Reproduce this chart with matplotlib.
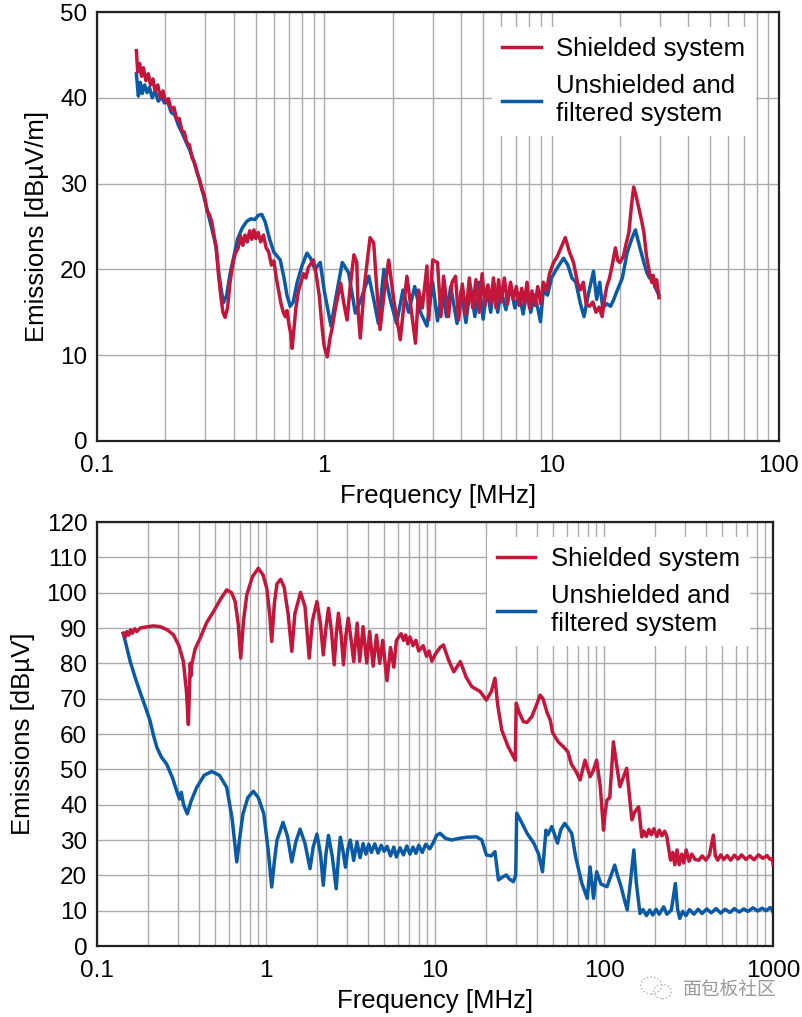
import numpy as np
import matplotlib.pyplot as plt
from matplotlib.patches import Ellipse
from matplotlib.ticker import FixedLocator, FixedFormatter, LogLocator, NullFormatter

plt.rcParams['font.family'] = ['Liberation Sans', 'DejaVu Sans']

RED = '#c4163a'
BLUE = '#0a5aa6'

# ---- top panel: radiated emissions [dBuV/m] ----
top_shielded_f = [0.149, 0.151, 0.154, 0.157, 0.160, 0.164, 0.168, 0.172, 0.176, 0.180,
                  0.185, 0.190, 0.195, 0.200, 0.206, 0.212, 0.218, 0.224, 0.230, 0.236,
                  0.242, 0.248, 0.255, 0.262, 0.268, 0.275, 0.282, 0.290, 0.297, 0.305,
                  0.312, 0.320, 0.328, 0.335, 0.342, 0.350, 0.358, 0.366, 0.375, 0.385,
                  0.395, 0.405, 0.418, 0.428, 0.438, 0.448, 0.458, 0.470, 0.480, 0.490,
                  0.500, 0.512, 0.525, 0.540, 0.555, 0.570, 0.585, 0.600, 0.615, 0.630,
                  0.645, 0.660, 0.673, 0.685, 0.700, 0.712, 0.722, 0.735, 0.750, 0.770,
                  0.790, 0.810, 0.830, 0.850, 0.870, 0.895, 0.920, 0.950, 0.980, 1.00,
                  1.03, 1.06, 1.08, 1.12, 1.18, 1.22, 1.26, 1.30, 1.35, 1.39,
                  1.41, 1.44, 1.50, 1.59, 1.65, 1.70, 1.76, 1.84, 1.92, 2.02,
                  2.16, 2.31, 2.42, 2.52, 2.60, 2.70, 2.83, 2.88, 3.00, 3.15,
                  3.26, 3.35, 3.52, 3.65, 3.78, 3.90, 4.05, 4.20, 4.35, 4.50,
                  4.65, 4.80, 4.95, 5.10, 5.25, 5.40, 5.55, 5.70, 5.85, 6.00,
                  6.20, 6.40, 6.60, 6.80, 7.00, 7.20, 7.40, 7.60, 7.80, 8.00,
                  8.20, 8.45, 8.70, 8.95, 9.20, 9.50, 9.80, 10.2, 10.6, 11.0,
                  11.5, 12.0, 12.5, 13.0, 13.4, 13.8, 14.2, 14.7, 15.2, 15.7,
                  16.2, 16.7, 17.1, 17.5, 18.0, 18.5, 19.1, 19.6, 20.0, 20.7,
                  21.3, 21.9, 22.5, 23.0, 23.6, 24.3, 25.0, 25.5, 26.2, 27.0,
                  27.6, 28.0, 28.5, 29.0, 29.7]
top_shielded_v = [45.5, 43.0, 44.0, 42.5, 43.5, 42.0, 42.8, 41.5, 42.2, 40.8,
                  41.5, 40.0, 40.8, 39.6, 39.9, 38.6, 38.9, 37.5, 37.6, 36.2,
                  36.0, 34.8, 34.5, 33.0, 32.5, 31.3, 30.5, 29.3, 28.6, 26.8,
                  26.4, 25.5, 23.8, 22.5, 19.5, 17.0, 15.0, 14.4, 15.5, 18.5,
                  20.5, 21.8, 22.5, 23.9, 22.8, 24.0, 23.2, 24.5, 23.5, 24.6,
                  23.6, 24.3, 23.2, 24.0, 22.5, 22.0, 20.5, 21.0, 19.0, 17.5,
                  16.0, 15.0, 14.5, 15.2, 13.5, 12.5, 10.8, 13.0, 15.5, 17.5,
                  18.5, 19.5, 19.0, 20.2, 20.6, 21.1, 19.5, 17.0, 13.0, 11.0,
                  9.8, 12.0, 13.0, 15.5, 18.4, 16.0, 14.1, 18.0, 21.7, 20.8,
                  15.0, 12.0, 18.0, 23.7, 23.1, 18.0, 13.0, 17.5, 21.1, 16.5,
                  11.8, 19.2, 15.0, 11.4, 17.6, 15.5, 20.4, 14.1, 21.1, 20.8,
                  14.5, 19.2, 14.5, 18.5, 19.2, 14.1, 18.3, 14.8, 19.0, 15.5,
                  18.8, 15.0, 19.5, 15.8, 18.2, 16.0, 19.0, 15.5, 18.8, 16.2,
                  19.0, 16.0, 18.5, 16.5, 18.0, 15.8, 17.8, 16.0, 18.5, 15.5,
                  17.5, 15.8, 18.0, 16.0, 18.5, 17.5, 19.5, 20.8, 21.5, 22.5,
                  23.7, 22.0, 20.8, 18.5, 17.6, 18.5, 16.0, 15.7, 16.2, 15.0,
                  15.6, 14.5, 16.5, 18.0, 19.0, 20.5, 22.5, 21.0, 20.8, 21.5,
                  23.0, 24.3, 27.5, 29.6, 28.5, 27.0, 25.5, 24.3, 21.5, 19.6,
                  18.5, 19.3, 18.0, 18.8, 16.7]

top_unshielded_f = [0.149, 0.152, 0.155, 0.158, 0.162, 0.166, 0.170, 0.175, 0.180, 0.186,
                    0.192, 0.198, 0.205, 0.212, 0.220, 0.228, 0.236, 0.245, 0.255, 0.265,
                    0.275, 0.285, 0.295, 0.305, 0.315, 0.325, 0.333, 0.342, 0.350, 0.360,
                    0.372, 0.385, 0.400, 0.415, 0.435, 0.456, 0.475, 0.495, 0.512, 0.531,
                    0.550, 0.575, 0.600, 0.640, 0.665, 0.685, 0.708, 0.730, 0.760, 0.800,
                    0.839, 0.870, 0.910, 0.960, 1.00, 1.07, 1.13, 1.20, 1.28, 1.37,
                    1.45, 1.57, 1.65, 1.73, 1.83, 1.95, 2.08, 2.22, 2.35, 2.50,
                    2.65, 2.83, 3.00, 3.15, 3.30, 3.45, 3.60, 3.84, 4.00, 4.20,
                    4.40, 4.60, 4.80, 5.00, 5.20, 5.40, 5.60, 5.80, 6.00, 6.30,
                    6.60, 6.90, 7.20, 7.50, 7.80, 8.10, 8.40, 8.70, 8.94, 9.20,
                    9.60, 10.0, 10.5, 11.3, 11.8, 12.3, 12.8, 13.4, 13.9, 14.5,
                    15.3, 15.8, 16.3, 16.8, 17.5, 18.2, 18.8, 19.3, 20.5, 21.5,
                    22.5, 23.4, 24.5, 25.5, 26.3, 27.0, 27.8, 28.5, 29.7]
top_unshielded_v = [42.8, 40.2, 41.8, 40.5, 41.5, 40.6, 41.2, 40.0, 40.8, 39.6,
                    40.1, 39.4, 39.5, 38.3, 38.0, 36.8, 36.0, 35.0, 34.0, 32.8,
                    31.5, 30.0, 28.5, 27.0, 25.5, 24.0, 22.8, 20.0, 18.0, 16.1,
                    17.0, 19.5, 21.5, 23.5, 24.8, 25.6, 25.9, 25.8, 26.3, 26.4,
                    25.5, 23.5, 22.0, 21.1, 19.0, 17.0, 15.7, 16.2, 18.5, 20.5,
                    21.9, 21.3, 20.0, 20.8, 17.5, 13.4, 17.0, 20.8, 19.6, 14.9,
                    16.5, 19.2, 16.5, 13.7, 20.0, 16.5, 13.7, 17.6, 15.0, 18.0,
                    15.0, 13.4, 18.5, 14.0, 17.5, 14.5, 18.0, 13.7, 17.5, 13.8,
                    18.0, 14.5, 18.5, 14.2, 17.8, 15.0, 18.3, 15.0, 17.5, 15.3,
                    18.0, 15.5, 17.2, 14.8, 17.5, 15.0, 17.0, 15.5, 13.9, 17.5,
                    17.0, 19.0, 20.0, 21.3, 20.5, 19.0, 18.5, 16.0, 14.5, 17.0,
                    19.8, 16.5, 18.5, 15.5, 16.0, 15.7, 16.5, 17.3, 19.0, 21.9,
                    23.5, 24.6, 22.5, 20.8, 19.6, 19.0, 19.2, 18.0, 17.0]

# ---- bottom panel: conducted emissions [dBuV] ----
bot_shielded_f = [0.143, 0.147, 0.150, 0.154, 0.158, 0.162, 0.167, 0.172, 0.180, 0.195,
                  0.215, 0.236, 0.260, 0.283, 0.305, 0.324, 0.338, 0.347, 0.352, 0.356,
                  0.360, 0.363, 0.380, 0.407, 0.445, 0.488, 0.535, 0.585, 0.625, 0.656,
                  0.685, 0.708, 0.735, 0.769, 0.830, 0.900, 0.960, 1.01, 1.05, 1.08,
                  1.12, 1.16, 1.22, 1.28, 1.35, 1.42, 1.48, 1.60, 1.70, 1.80,
                  1.88, 2.00, 2.10, 2.18, 2.26, 2.34, 2.44, 2.53, 2.60, 2.68,
                  2.78, 2.87, 2.96, 3.06, 3.20, 3.30, 3.46, 3.58, 3.75, 3.94,
                  4.10, 4.30, 4.50, 4.70, 4.90, 5.19, 5.45, 5.70, 5.90, 6.10,
                  6.30, 6.50, 6.70, 6.90, 7.10, 7.40, 7.70, 8.00, 8.50, 8.90,
                  9.20, 9.57, 10.0, 10.7, 11.2, 12.0, 12.9, 14.1, 15.3, 16.5,
                  18.5, 20.1, 21.5, 22.6, 23.5, 24.8, 27.0, 29.8, 30.2, 31.5,
                  33.3, 35.0, 37.3, 40.0, 41.8, 43.5, 46.0, 48.0, 49.5, 51.3,
                  53.5, 57.4, 61.0, 64.0, 68.0, 72.1, 77.1, 82.6, 86.0, 90.3,
                  95.0, 99.2, 101.5, 104.0, 108.0, 113.5, 118.0, 124.0, 136.0, 146.0,
                  152.0, 160.0, 167.0, 172.0, 178.0, 184.0, 190.0, 197.0, 205.0, 212.0,
                  220.0, 228.0, 235.0, 247.0, 255.0, 262.0, 270.0, 278.0, 288.0, 296.0,
                  306.0, 318.0, 330.0, 345.0, 363.0, 380.0, 400.0, 420.0, 443.0, 455.0,
                  470.0, 490.0, 510.0, 535.0, 560.0, 590.0, 620.0, 650.0, 690.0, 730.0,
                  770.0, 820.0, 870.0, 920.0, 960.0, 990.0, 1000.0]
bot_shielded_v = [88.5, 87.5, 89.0, 88.0, 89.5, 88.5, 89.8, 89.0, 90.0, 90.3,
                  90.6, 90.4, 89.5, 88.1, 85.0, 80.6, 72.0, 62.7, 72.0, 80.0,
                  76.5, 79.6, 84.0, 87.1, 91.5, 94.6, 98.0, 100.8, 100.0, 97.5,
                  91.0, 81.5, 92.0, 99.4, 104.5, 106.9, 105.0, 101.2, 94.0, 86.2,
                  97.0, 102.5, 103.8, 101.5, 94.0, 83.4, 94.0, 100.1, 96.0, 81.5,
                  92.0, 97.5, 91.0, 82.4, 90.0, 95.6, 89.0, 79.6, 88.0, 94.2,
                  88.0, 79.6, 87.5, 92.8, 86.0, 80.5, 91.4, 80.6, 90.4, 80.1,
                  89.0, 79.2, 88.0, 80.0, 86.5, 75.1, 84.5, 78.9, 86.4, 87.5,
                  88.4, 86.5, 88.0, 85.5, 87.5, 85.0, 86.5, 83.5, 85.0, 82.0,
                  83.5, 80.6, 82.5, 84.5, 85.2, 81.0, 77.6, 80.5, 76.0, 73.4,
                  72.0, 69.6, 72.0, 75.8, 68.0, 61.1, 56.5, 52.6, 68.7, 66.0,
                  63.5, 63.3, 64.9, 68.5, 71.0, 70.0, 66.0, 64.0, 60.5, 59.2,
                  57.8, 56.4, 55.0, 51.5, 49.5, 47.0, 52.6, 47.9, 49.5, 52.6,
                  45.0, 32.8, 38.0, 41.3, 42.0, 57.8, 52.0, 45.1, 50.3, 35.7,
                  38.0, 39.4, 30.9, 32.5, 31.0, 33.0, 31.5, 33.2, 31.0, 32.8,
                  31.2, 32.5, 31.0, 24.3, 26.5, 23.0, 27.2, 23.0, 26.0, 23.5,
                  27.2, 24.0, 26.0, 24.5, 24.3, 25.5, 24.3, 25.8, 31.4, 25.5,
                  24.3, 25.8, 24.5, 25.6, 24.3, 25.7, 24.6, 25.8, 24.5, 25.5,
                  24.4, 25.8, 24.8, 25.6, 24.5, 24.8, 23.0]

bot_unshielded_f = [0.143, 0.150, 0.157, 0.168, 0.179, 0.192, 0.206, 0.216, 0.226, 0.240,
                    0.258, 0.280, 0.300, 0.308, 0.315, 0.325, 0.342, 0.360, 0.389, 0.430,
                    0.477, 0.530, 0.585, 0.630, 0.671, 0.700, 0.730, 0.780, 0.841, 0.900,
                    0.970, 1.03, 1.08, 1.12, 1.16, 1.26, 1.34, 1.42, 1.50, 1.59,
                    1.70, 1.82, 1.90, 2.00, 2.10, 2.18, 2.26, 2.34, 2.47, 2.60,
                    2.68, 2.75, 2.85, 2.95, 3.05, 3.15, 3.30, 3.45, 3.60, 3.75,
                    3.90, 4.05, 4.20, 4.40, 4.60, 4.80, 5.00, 5.20, 5.45, 5.70,
                    5.90, 6.20, 6.50, 6.80, 7.10, 7.40, 7.70, 8.00, 8.40, 8.80,
                    9.30, 9.70, 10.2, 10.7, 11.5, 12.5, 14.0, 15.5, 17.6, 18.9,
                    20.1, 21.5, 22.6, 23.7, 25.0, 26.4, 27.5, 29.0, 30.0, 30.4,
                    32.5, 35.0, 38.4, 41.0, 43.2, 45.3, 46.5, 49.0, 51.0, 53.0,
                    55.5, 58.5, 61.0, 64.3, 68.0, 73.9, 79.5, 82.6, 86.6, 90.3,
                    96.0, 104.0, 110.0, 115.5, 120.0, 126.0, 132.0, 137.0, 143.0, 150.0,
                    155.0, 163.0, 170.0, 178.0, 186.0, 194.0, 203.0, 212.0, 225.0, 235.0,
                    250.0, 264.0, 272.0, 280.0, 292.0, 305.0, 320.0, 340.0, 360.0, 380.0,
                    405.0, 430.0, 460.0, 490.0, 520.0, 555.0, 590.0, 630.0, 670.0, 710.0,
                    760.0, 810.0, 860.0, 910.0, 960.0, 990.0, 1000.0]
bot_unshielded_v = [88.5, 84.5, 80.6, 76.0, 72.1, 68.0, 63.7, 59.5, 56.2, 53.5,
                    51.5, 47.5, 43.0, 41.6, 43.5, 40.0, 37.4, 41.0, 44.9, 48.3,
                    49.4, 48.3, 44.9, 36.0, 23.8, 31.0, 37.4, 42.0, 43.8, 42.0,
                    37.4, 27.0, 16.7, 24.0, 29.9, 35.0, 31.0, 23.8, 29.5, 33.1,
                    29.0, 21.9, 28.0, 31.7, 26.0, 17.2, 26.0, 31.3, 25.0, 16.2,
                    25.0, 30.8, 27.0, 22.3, 27.5, 30.0, 24.2, 29.5, 25.0, 29.0,
                    26.0, 28.8, 26.5, 28.9, 26.3, 28.5, 26.8, 28.2, 25.5, 28.0,
                    25.2, 27.8, 25.8, 28.3, 26.0, 28.0, 26.2, 28.5, 26.5, 28.8,
                    27.5, 29.0, 31.3, 31.9, 30.5, 30.0, 30.5, 30.8, 30.9, 30.0,
                    25.8, 25.5, 26.7, 18.7, 19.5, 20.1, 19.0, 18.2, 20.0, 37.6,
                    35.0, 31.9, 29.1, 26.0, 21.0, 32.8, 31.5, 33.8, 31.5, 29.1,
                    33.0, 34.7, 33.5, 31.9, 25.0, 17.7, 13.5, 22.4, 13.5, 21.0,
                    17.5, 16.8, 20.0, 22.9, 20.0, 16.8, 13.0, 10.2, 18.0, 27.2,
                    18.0, 9.2, 10.3, 8.6, 10.2, 8.8, 10.4, 9.0, 11.1, 9.0,
                    10.2, 17.7, 10.5, 7.8, 9.8, 8.6, 10.3, 9.0, 10.4, 9.2,
                    10.5, 9.4, 10.6, 9.3, 10.4, 9.5, 10.6, 9.6, 10.5, 9.8,
                    10.8, 9.9, 10.7, 10.0, 10.9, 10.2, 9.5]

labels = ['Shielded system', 'Unshielded and\nfiltered system']


def style_axes(ax, xmax, ymax, ystep, xlabels, ylabel):
    ax.set_xscale('log')
    ax.set_xlim(0.1, xmax)
    ax.set_ylim(0, ymax)
    majors = [0.1 * 10 ** i for i in range(len(xlabels))]
    ax.xaxis.set_major_locator(FixedLocator(majors))
    ax.xaxis.set_major_formatter(FixedFormatter(xlabels))
    ax.xaxis.set_minor_locator(LogLocator(base=10, subs=np.arange(2, 10), numticks=20))
    ax.xaxis.set_minor_formatter(NullFormatter())
    ax.set_yticks(np.arange(0, ymax + 1, ystep))
    ax.grid(True, which='both', axis='x', color='#ababab', lw=1.0)
    ax.grid(True, which='major', axis='y', color='#ababab', lw=1.0)
    ax.tick_params(which='both', length=0, labelsize=17.5)
    ax.tick_params(axis='x', pad=10)
    ax.tick_params(axis='y', pad=7)
    for s in ax.spines.values():
        s.set_linewidth(1.6)
        s.set_color('#222222')
    ax.set_xlabel('Frequency [MHz]', fontsize=18.5, labelpad=5)
    ax.set_ylabel(ylabel, fontsize=18.5, labelpad=8)


fig = plt.figure(figsize=(8.02, 10.17), dpi=100)
ax1 = fig.add_axes([0.121, 0.5664, 0.850, 0.4218])
ax2 = fig.add_axes([0.121, 0.0698, 0.843, 0.4169])

ax1.plot(top_shielded_f, top_shielded_v, color=RED, lw=2.5, label=labels[0], zorder=3)
ax1.plot(top_unshielded_f, top_unshielded_v, color=BLUE, lw=2.5, label=labels[1], zorder=2)
style_axes(ax1, 100, 50, 10, ['0.1', '1', '10', '100'], 'Emissions [dBµV/m]')

ax2.plot(bot_shielded_f, bot_shielded_v, color=RED, lw=2.5, label=labels[0], zorder=3)
ax2.plot(bot_unshielded_f, bot_unshielded_v, color=BLUE, lw=2.5, label=labels[1], zorder=2)
style_axes(ax2, 1000, 120, 10, ['0.1', '1', '10', '100', '1000'], 'Emissions [dBµV]')

for ax in (ax1, ax2):
    h, l = ax.get_legend_handles_labels()
    leg = ax.legend(h, l, loc='upper right', bbox_to_anchor=(0.985, 0.995), fontsize=18.5,
                    frameon=True, fancybox=False, framealpha=1.0, edgecolor='white',
                    handlelength=1.5, handletextpad=0.6, labelspacing=0.5,
                    borderpad=0.4)
    leg.get_frame().set_linewidth(0)

# watermark with a small chat-bubble icon
fig.patches.append(Ellipse((0.812, 0.031), 0.026, 0.017, transform=fig.transFigure,
                           fill=False, ec='#b0b0b0', lw=1.0, ls=':'))
fig.patches.append(Ellipse((0.826, 0.025), 0.022, 0.014, transform=fig.transFigure,
                           fill=False, ec='#b0b0b0', lw=1.0, ls=':'))
fig.text(0.851, 0.027, '面包板社区', fontsize=13.5, color='#9a9a9a',
         family=['Noto Sans CJK SC', 'DejaVu Sans'], ha='left', va='center')

fig.savefig('out.png', dpi=100)
